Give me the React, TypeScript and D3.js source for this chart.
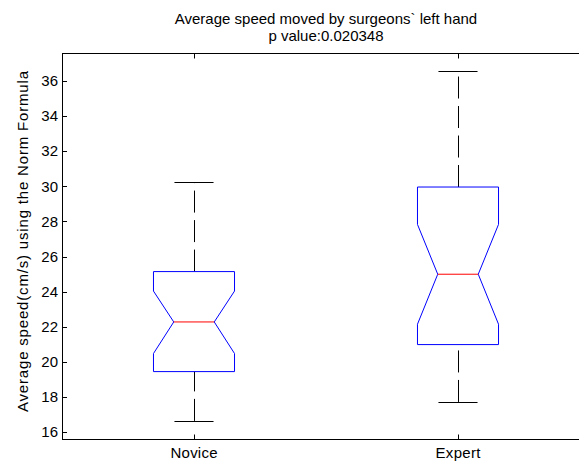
import React from "react";
import * as d3 from "d3";

// Box-plot summary per group (cm/s)
const groups = ["Novice", "Expert"];
const whiskerLow = [16.63, 17.71];
const q1 = [19.44, 20.98];
const notchLow = [20.47, 22.14];
const median = [22.27, 24.99];
const notchHigh = [24.03, 27.83];
const q3 = [25.14, 29.96];
const whiskerHigh = [30.23, 36.57];
const yTicks = [16, 18, 20, 22, 24, 26, 28, 30, 32, 34, 36];

const W = 579;
const H = 462;
const left = 62;
const right = 590;
const top = 53.5;
const bottom = 439.5;
const font = "'Liberation Sans', Arial, Helvetica, sans-serif";
const fs = 15;

export default function App() {
  const x = d3.scaleLinear().domain([0.5, 2.5]).range([left, right]);
  const y = d3.scaleLinear().domain([15.57, 37.57]).range([bottom, top]);
  const boxHalf = 0.1535;
  const capHalf = 0.074;
  const notchFrac = 0.5;
  const xLabelWidths = [47, 45];

  const px = (v: number) => Math.round(v) + 0.5;

  return (
    <svg
      width={W}
      height={H}
      style={{ position: "absolute", left: 0, top: 0, background: "#fff" }}
      fontFamily={font}
    >
      <rect x={0} y={0} width={W} height={H} fill="#fff" />
      {/* title */}
      <text x={(left + right) / 2} y={23.5} textAnchor="middle" fontSize={fs} fill="#000">
        Average speed moved by surgeons` left hand
      </text>
      <text x={(left + right) / 2} y={41} textAnchor="middle" fontSize={fs} fill="#000">
        p value:0.020348
      </text>

      {/* axes frame */}
      <rect x={left + 0.5} y={top} width={right - left} height={bottom - top} fill="none" stroke="#000" strokeWidth={1} />

      {/* y ticks */}
      {yTicks.map((t) => (
        <g key={t}>
          <line x1={left} x2={left + 5} y1={px(y(t))} y2={px(y(t))} stroke="#000" />
          <text x={58} y={y(t) + 5.2} textAnchor="end" fontSize={fs} fill="#000">
            {t}
          </text>
        </g>
      ))}

      {/* x ticks and labels */}
      {groups.map((g, i) => (
        <g key={g}>
          <line x1={px(x(i + 1))} x2={px(x(i + 1))} y1={bottom} y2={bottom - 5} stroke="#000" />
          <line x1={px(x(i + 1))} x2={px(x(i + 1))} y1={top} y2={top + 5} stroke="#000" />
          <text
            x={x(i + 1) - xLabelWidths[i] / 2}
            y={457.5}
            fontSize={fs}
            fill="#000"
            textLength={xLabelWidths[i]}
            lengthAdjust="spacing"
          >
            {g}
          </text>
        </g>
      ))}

      {/* y axis label */}
      <text
        transform={`translate(27.5,${412}) rotate(-90)`}
        fontSize={fs}
        fill="#000"
        textLength={341}
        lengthAdjust="spacing"
      >
        Average speed(cm/s) using the Norm Formula
      </text>

      {/* boxes */}
      {groups.map((g, i) => {
        const c = i + 1;
        const xl = x(c - boxHalf);
        const xr = x(c + boxHalf);
        const nl = x(c - boxHalf * notchFrac);
        const nr = x(c + boxHalf * notchFrac);
        const cx = px(x(c));
        const pts: [number, number][] = [
          [xl, y(q1[i])],
          [xl, y(notchLow[i])],
          [nl, y(median[i])],
          [xl, y(notchHigh[i])],
          [xl, y(q3[i])],
          [xr, y(q3[i])],
          [xr, y(notchHigh[i])],
          [nr, y(median[i])],
          [xr, y(notchLow[i])],
          [xr, y(q1[i])],
        ];
        const outline = d3.line()(pts) + "Z";
        return (
          <g key={g}>
            {/* whiskers, drawn from lower value upward */}
            <line x1={cx} x2={cx} y1={y(q3[i])} y2={y(whiskerHigh[i])} stroke="#000" strokeDasharray="22 7.5" />
            <line x1={cx} x2={cx} y1={y(whiskerLow[i])} y2={y(q1[i])} stroke="#000" strokeDasharray="22 7.5" />
            <line x1={x(c - capHalf)} x2={x(c + capHalf)} y1={px(y(whiskerHigh[i]))} y2={px(y(whiskerHigh[i]))} stroke="#000" />
            <line x1={x(c - capHalf)} x2={x(c + capHalf)} y1={px(y(whiskerLow[i]))} y2={px(y(whiskerLow[i]))} stroke="#000" />
            <path d={outline} fill="none" stroke="#0000ff" strokeWidth={1} />
            <line x1={nl} x2={nr} y1={y(median[i])} y2={y(median[i])} stroke="#ff0000" />
          </g>
        );
      })}
    </svg>
  );
}
